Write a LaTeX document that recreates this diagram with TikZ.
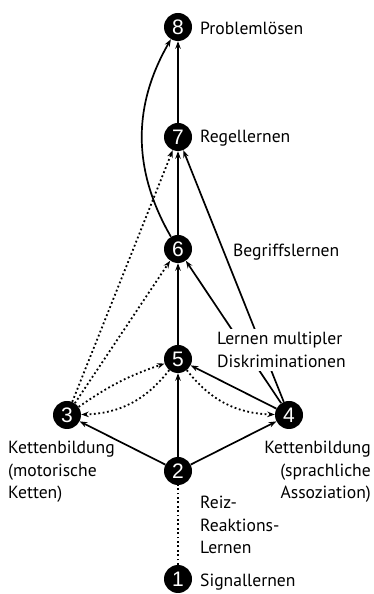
\documentclass[tikz,border=0pt]{standalone}
\usepackage{fontspec}
\setmainfont{PT Sans}
\newfontfamily\digitfont{Liberation Sans}
\usetikzlibrary{arrows.meta}

\tikzset{
  stage/.style={circle,fill=black,inner sep=0pt,minimum size=28pt,
    text=white,font=\digitfont\fontsize{21}{21}\selectfont},
  lbl/.style={font=\fontsize{17.6}{22.5}\selectfont,inner sep=0pt},
  sol/.style={line width=1.7pt,-{Stealth[length=7.5pt,width=5.5pt]}},
  dot/.style={line width=1.8pt,dash pattern=on 1.8pt off 2.6pt,-{Stealth[length=7.5pt,width=5.5pt]}}
}

\begin{document}
\begin{tikzpicture}[x=1pt,y=1pt]
  \useasboundingbox (0,0) rectangle (373,594);
  % stages
  \node[stage] (n1) at (178,15) {1};
  \node[stage] (n2) at (178,123) {2};
  \node[stage] (n3) at (67,179) {3};
  \node[stage] (n4) at (289,179) {4};
  \node[stage] (n5) at (178,235) {5};
  \node[stage] (n6) at (178,345) {6};
  \node[stage] (n7) at (178,457) {7};
  \node[stage] (n8) at (178,567) {8};
  % solid links
  \draw[sol] (n2) -- (n3);
  \draw[sol] (n2) -- (n4);
  \draw[sol] (n2) -- (n5);
  \draw[sol] (n5) -- (n6);
  \draw[sol] (n6) -- (n7);
  \draw[sol] (n7) -- (n8);
  \draw[sol] (n6) to[bend left=30] (n8);
  \draw[sol] (n4) -- (n5);
  \draw[sol] (n4) -- (n6);
  \draw[sol] (n4) -- (n7);
  % dotted links
  \draw[line width=1.8pt,dash pattern=on 1.8pt off 2.6pt] (n1) -- (n2);
  \draw[dot] (n3) to[bend left=8] (n5);
  \draw[dot] (n5) to[bend left=25] (n3);
  \draw[dot] (n5) to[bend right=25] (n4);
  \draw[dot] (n3) -- (n6);
  \draw[dot] (n3) -- (n7);
  % names
  \node[lbl,anchor=west] (t8) at (200,566) {Problemlösen};
  \node[lbl,anchor=west] (t7) at (200,456) {Regellernen};
  \node[lbl,anchor=west] (t6) at (233,342) {Begriffslernen};
  \node[lbl,anchor=west,align=left,fill=white,inner ysep=3pt,inner xsep=2pt] (t5) at (215,244) {Lernen multipler\\Diskriminationen};
  \node[lbl,anchor=west,align=left] (t3) at (8,122) {Kettenbildung\\(motorische\\Ketten)};
  \node[lbl,anchor=east,align=right] (t4) at (371,122) {Kettenbildung\\(sprachliche\\Assoziation)};
  \node[lbl,anchor=west,align=left] (t2) at (200,69) {Reiz-\\Reaktions-\\Lernen};
  \node[lbl,anchor=west] (t1) at (200,12) {Signallernen};
\end{tikzpicture}
\end{document}
